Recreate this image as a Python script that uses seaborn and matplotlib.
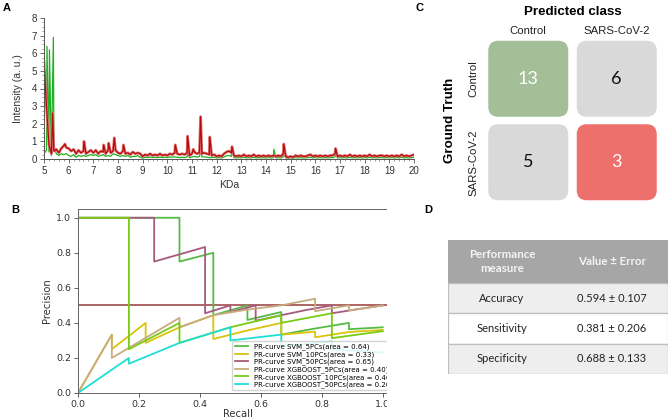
import numpy as np
import matplotlib
matplotlib.use("Agg")
import matplotlib.pyplot as plt
from matplotlib.patches import FancyBboxPatch, Rectangle
from matplotlib.ticker import MultipleLocator
import seaborn as sns

W, H = 669, 420

# ---------------- data ----------------
# A: MALDI spectra, baseline read every 0.1 kDa plus the visible spikes
mass_grid = np.linspace(5.0, 20.0, 151)
red_base = [
    5.5, 3.0, 0.8, 0.3, 0.45, 0.55, 0.35, 0.6, 0.75, 0.65,
    0.6, 0.45, 0.55, 0.3, 0.5, 0.35, 0.45, 0.3, 0.4, 0.5,
    0.35, 0.5, 0.3, 0.45, 0.4, 0.3, 0.5, 0.35, 0.45, 0.5,
    0.35, 0.3, 0.45, 0.3, 0.35, 0.25, 0.4, 0.3, 0.35, 0.3,
    0.15, 0.25, 0.2, 0.3, 0.2, 0.25, 0.2, 0.3, 0.2, 0.25,
    0.2, 0.3, 0.25, 0.35, 0.3, 0.25, 0.3, 0.25, 0.35, 0.2,
    0.3, 0.4, 0.3, 0.35, 0.3, 0.35, 0.3, 0.25, 0.2, 0.25,
    0.15, 0.2, 0.15, 0.3, 0.4, 0.45, 0.35, 0.2, 0.15, 0.2,
    0.15, 0.25, 0.15, 0.2, 0.15, 0.25, 0.15, 0.2, 0.15, 0.2,
    0.15, 0.2, 0.15, 0.2, 0.15, 0.2, 0.15, 0.3, 0.15, 0.1,
    0.15, 0.1, 0.2, 0.15, 0.2, 0.15, 0.15, 0.2, 0.25, 0.15,
    0.2, 0.15, 0.2, 0.15, 0.2, 0.15, 0.2, 0.2, 0.3, 0.15,
    0.2, 0.15, 0.2, 0.15, 0.25, 0.15, 0.2, 0.15, 0.2, 0.15,
    0.2, 0.15, 0.25, 0.15, 0.2, 0.15, 0.2, 0.2, 0.15, 0.2,
    0.15, 0.2, 0.15, 0.2, 0.15, 0.25, 0.15, 0.2, 0.15, 0.2,
    0.25,
]
green_base = [
    0.3, 0.5, 0.4, 0.2, 0.7, 0.3, 0.2, 0.3, 0.25, 0.3,
    0.2, 0.15, 0.25, 0.1, 0.2, 0.15, 0.2, 0.15, 0.2, 0.25,
    0.2, 0.25, 0.15, 0.2, 0.25, 0.15, 0.2, 0.15, 0.3, 0.25,
    0.2, 0.15, 0.2, 0.15, 0.2, 0.1, 0.15, 0.15, 0.2, 0.1,
    0.05, 0.1, 0.08, 0.12, 0.08, 0.1, 0.08, 0.12, 0.08, 0.1,
    0.08, 0.12, 0.1, 0.12, 0.1, 0.08, 0.1, 0.08, 0.12, 0.08,
    0.12, 0.15, 0.1, 0.15, 0.12, 0.12, 0.1, 0.08, 0.08, 0.1,
    0.06, 0.08, 0.06, 0.12, 0.18, 0.2, 0.15, 0.08, 0.06, 0.08,
    0.06, 0.1, 0.06, 0.08, 0.06, 0.1, 0.06, 0.08, 0.06, 0.08,
    0.06, 0.08, 0.06, 0.08, 0.06, 0.08, 0.06, 0.12, 0.06, 0.05,
    0.06, 0.05, 0.08, 0.06, 0.08, 0.06, 0.06, 0.08, 0.1, 0.06,
    0.08, 0.06, 0.08, 0.06, 0.08, 0.06, 0.08, 0.08, 0.12, 0.06,
    0.08, 0.06, 0.08, 0.06, 0.1, 0.06, 0.08, 0.06, 0.08, 0.06,
    0.08, 0.06, 0.1, 0.06, 0.08, 0.06, 0.08, 0.08, 0.06, 0.08,
    0.06, 0.08, 0.06, 0.08, 0.06, 0.1, 0.06, 0.08, 0.06, 0.08,
    0.1,
]
red_peak_mass = [5.35, 5.85, 6.62, 7.42, 7.62, 7.85, 8.22, 10.32, 10.82,
                 11.05, 11.35, 11.72, 12.62, 14.72, 16.82]
red_peak_height = [2.6, 0.85, 1.0, 0.8, 0.9, 1.2, 0.8, 0.8, 1.3,
                   0.55, 2.4, 1.25, 0.7, 0.85, 0.6]
green_peak_mass = [5.12, 5.22, 5.38, 10.82, 11.35, 12.62, 14.32, 14.72, 16.82]
green_peak_height = [6.4, 6.2, 6.9, 0.3, 0.45, 0.55, 0.55, 0.4, 0.3]

# B: precision-recall curves
curve_names = ["SVM_5PCs", "SVM_10PCs", "SVM_50PCs",
               "XGBOOST_5PCs", "XGBOOST_10PCs", "XGBOOST_50PCs"]
curve_areas = [0.64, 0.33, 0.65, 0.40, 0.46, 0.20]
curve_colors = ["#55bb46", "#dcc30a", "#a65a7d", "#c8ab7e", "#78cc14", "#1fdfd5"]
svm5_recall = [0, 0, 0.333, 0.333, 0.444, 0.444, 0.556, 0.556, 0.667, 0.667, 0.778, 0.889, 0.889, 1.0]
svm5_precision = [0, 1.0, 1.0, 0.75, 0.8, 0.444, 0.5, 0.417, 0.462, 0.333, 0.368, 0.4, 0.364, 0.375]
svm10_recall = [0, 0.111, 0.111, 0.222, 0.222, 0.333, 0.444, 0.444, 0.556, 0.667, 0.667, 0.778, 0.778, 0.889, 1.0]
svm10_precision = [0, 0.333, 0.25, 0.4, 0.286, 0.375, 0.444, 0.308, 0.357, 0.4, 0.333, 0.35, 0.318, 0.348, 0.36]
svm50_recall = [0, 0, 0.25, 0.25, 0.417, 0.417, 0.5, 0.5, 0.583, 0.583, 0.667, 0.75, 0.833, 0.833, 0.917, 1.0]
svm50_precision = [0, 1.0, 1.0, 0.75, 0.833, 0.455, 0.5, 0.462, 0.5, 0.412, 0.444, 0.474, 0.5, 0.455, 0.478, 0.5]
xgb5_recall = [0, 0.111, 0.111, 0.333, 0.333, 0.444, 0.556, 0.667, 0.778, 0.778, 0.889, 0.889, 1.0]
xgb5_precision = [0, 0.333, 0.2, 0.429, 0.375, 0.444, 0.476, 0.5, 0.538, 0.467, 0.5, 0.471, 0.5]
xgb10_recall = [0, 0, 0.167, 0.167, 0.333, 0.333, 0.5, 0.667, 0.667, 0.833, 0.833, 1.0]
xgb10_precision = [0, 1.0, 1.0, 0.25, 0.4, 0.286, 0.375, 0.444, 0.4, 0.455, 0.313, 0.353]
xgb50_recall = [0, 0.167, 0.167, 0.333, 0.5, 0.5, 0.667, 0.667, 0.833, 0.833, 1.0]
xgb50_precision = [0, 0.2, 0.167, 0.286, 0.375, 0.3, 0.333, 0.267, 0.294, 0.25, 0.231]
baseline_precision = 0.5

# C: confusion matrix
class_names = ["Control", "SARS-CoV-2"]
cm_values = [[13, 6], [5, 3]]

# D: performance table
metric_names = ["Accuracy", "Sensitivity", "Specificity"]
metric_values = [0.594, 0.381, 0.688]
metric_errors = [0.107, 0.206, 0.133]


def px_box(x0, y0, x1, y1):
    # pixel box (origin top left) -> figure fractions
    return [x0 / W, 1 - y1 / H, (x1 - x0) / W, (y1 - y0) / H]


def fx(x):
    return x / W


def fy(y):
    return 1 - y / H


def merge_peaks(base, peak_mass, peak_height):
    x = np.concatenate([mass_grid, peak_mass])
    y = np.concatenate([base, peak_height])
    order = np.argsort(x, kind="stable")
    return x[order], y[order]


fig = plt.figure(figsize=(W / 100, H / 100), dpi=100)
ARIAL = "Liberation Sans"

# ---------------- A ----------------
axA = fig.add_axes(px_box(44, 18, 414, 159))
gx, gy = merge_peaks(green_base, green_peak_mass, green_peak_height)
rx, ry = merge_peaks(red_base, red_peak_mass, red_peak_height)
sns.lineplot(x=gx, y=gy, sort=False, estimator=None, color="#1fb01f", lw=0.9, ax=axA)
sns.lineplot(x=rx, y=ry, sort=False, estimator=None, color="#e07a7a", lw=2.0, ax=axA)
sns.lineplot(x=rx, y=ry, sort=False, estimator=None, color="#b80a0a", lw=0.9, ax=axA)
axA.set_xlim(5, 20)
axA.set_ylim(0, 8)
axA.xaxis.set_major_locator(MultipleLocator(1))
axA.xaxis.set_minor_locator(MultipleLocator(0.2))
axA.yaxis.set_major_locator(MultipleLocator(1))
axA.yaxis.set_minor_locator(MultipleLocator(0.25))
for s in ["top", "right"]:
    axA.spines[s].set_visible(False)
for s in ["left", "bottom"]:
    axA.spines[s].set_color("#555555")
    axA.spines[s].set_linewidth(0.7)
axA.tick_params(which="major", length=3, width=0.6, color="#555555",
                labelsize=7, labelcolor="#333333", labelfontfamily=ARIAL, pad=2)
axA.tick_params(which="minor", length=1.6, width=0.5, color="#777777")
axA.set_xlabel("KDa", fontsize=7.5, family=ARIAL, color="#333333", labelpad=3)
axA.set_ylabel("Intensity (a. u.)", fontsize=7.5, family=ARIAL, color="#333333", labelpad=6)

# ---------------- B ----------------
# axis runs a little past 1.0; the source figure is cropped before its right edge
axB = fig.add_axes(px_box(78, 209, 398, 393))
curves = [(svm5_recall, svm5_precision), (svm10_recall, svm10_precision),
          (svm50_recall, svm50_precision), (xgb5_recall, xgb5_precision),
          (xgb10_recall, xgb10_precision), (xgb50_recall, xgb50_precision)]
axB.axhline(baseline_precision, color="#9e4a4a", lw=1.2)
for name, area, color, (rec, prec) in zip(curve_names, curve_areas, curve_colors, curves):
    sns.lineplot(x=rec, y=prec, sort=False, estimator=None, color=color, lw=1.3,
                 label=f"PR-curve {name}(area = {area:.2f})", ax=axB)
axB.set_xlim(0, 1.05)
axB.set_ylim(0, 1.05)
axB.set_xticks([0, 0.2, 0.4, 0.6, 0.8, 1.0])
axB.set_yticks([0, 0.2, 0.4, 0.6, 0.8, 1.0])
axB.tick_params(labelsize=6.8, length=3, width=0.6, color="#444444", labelcolor="#333333", pad=2)
for s in axB.spines.values():
    s.set_color("#666666")
    s.set_linewidth(0.7)
axB.set_xlabel("Recall", fontsize=7.2, color="#333333", labelpad=0)
axB.set_ylabel("Precision", fontsize=7.2, color="#333333", labelpad=3)
axB.legend(loc="lower right", fontsize=5.0, handlelength=2.0, borderaxespad=0.4,
           framealpha=0.85, labelspacing=0.12, borderpad=0.3)

# crop of the source figure
fig.add_artist(Rectangle((fx(387), 0), 1 - fx(387), fy(203), transform=fig.transFigure,
                         facecolor="white", edgecolor="none", zorder=5))

# ---------------- C ----------------
cx0, cy0, cell_w, cell_h, box_w, box_h = 484, 37, 88.5, 83.5, 80, 76
axC = fig.add_axes(px_box(cx0, cy0, cx0 + 2 * cell_w, cy0 + 2 * cell_h), zorder=6)
axC.set_xlim(0, 2 * cell_w)
axC.set_ylim(2 * cell_h, 0)
axC.axis("off")
for i in range(2):
    for j in range(2):
        if i == j == 0:
            fc, tc = "#a4bf98", "white"
        elif i == j:
            fc, tc = "#ee706c", "white"
        else:
            fc, tc = "#d9d9d9", "#111111"
        bx = j * cell_w + (cell_w - box_w) / 2
        by = i * cell_h + (cell_h - box_h) / 2
        axC.add_patch(FancyBboxPatch((bx, by), box_w, box_h,
                                     boxstyle="round,pad=0,rounding_size=10",
                                     facecolor=fc, edgecolor="none"))
        axC.text(bx + box_w / 2, by + box_h / 2, str(cm_values[i][j]), ha="center",
                 va="center", fontsize=13, color=tc, family="Lato")

fig.text(fx(420), fy(8), "C", fontsize=8, weight="bold", family=ARIAL, ha="center", va="center", zorder=7)
fig.text(fx(cx0 + cell_w), fy(12), "Predicted class", fontsize=9.6, weight="bold",
         family=ARIAL, ha="center", va="center", zorder=7)
for j, name in enumerate(class_names):
    fig.text(fx(cx0 + (j + 0.5) * cell_w), fy(31), name, fontsize=8.2, family=ARIAL,
             ha="center", va="center", color="#222222", zorder=7)
    fig.text(fx(473), fy(cy0 + (j + 0.5) * cell_h), name, fontsize=8.2, family=ARIAL,
             rotation=90, ha="center", va="center", color="#222222", zorder=7)
fig.text(fx(450), fy(cy0 + cell_h), "Ground Truth", fontsize=9.6, weight="bold",
         family=ARIAL, rotation=90, ha="center", va="center", zorder=7)

# ---------------- D ----------------
tx0, ty0, tw, head_h, row_h = 448, 240, 220, 43, 30.33
axD = fig.add_axes(px_box(tx0, ty0, tx0 + tw, ty0 + head_h + 3 * row_h), zorder=6)
axD.set_xlim(0, tw)
axD.set_ylim(head_h + 3 * row_h, 0)
axD.axis("off")
axD.add_patch(Rectangle((0, 0), tw, head_h, facecolor="#a6a6a6", edgecolor="none"))
axD.text(54, head_h / 2, "Performance\nmeasure", ha="center", va="center", fontsize=8.3,
         weight="bold", color="#f4f4f4", family="Lato", linespacing=1.25)
axD.text(164, head_h / 2, "Value ± Error", ha="center", va="center", fontsize=8.3,
         weight="bold", color="#f4f4f4", family="Lato")
for k, (name, val, err) in enumerate(zip(metric_names, metric_values, metric_errors)):
    top = head_h + k * row_h
    axD.add_patch(Rectangle((0, top), tw, row_h, facecolor="#eeeeee" if k % 2 == 0 else "white",
                            edgecolor="#bdbdbd", lw=0.9))
    axD.text(54, top + row_h / 2, name, ha="center", va="center", fontsize=8,
             color="#222222", family="Lato")
    axD.text(164, top + row_h / 2, f"{val:.3f} ± {err:.3f}", ha="center", va="center",
             fontsize=8, color="#222222", family="Lato")

# panel letters
fig.text(fx(7), fy(8), "A", fontsize=8, weight="bold", family=ARIAL, ha="center", va="center", zorder=7)
fig.text(fx(15), fy(210), "B", fontsize=8, weight="bold", family=ARIAL, ha="center", va="center", zorder=7)
fig.text(fx(428), fy(210), "D", fontsize=8, weight="bold", family=ARIAL, ha="center", va="center", zorder=7)

fig.savefig("out.png", dpi=100)
